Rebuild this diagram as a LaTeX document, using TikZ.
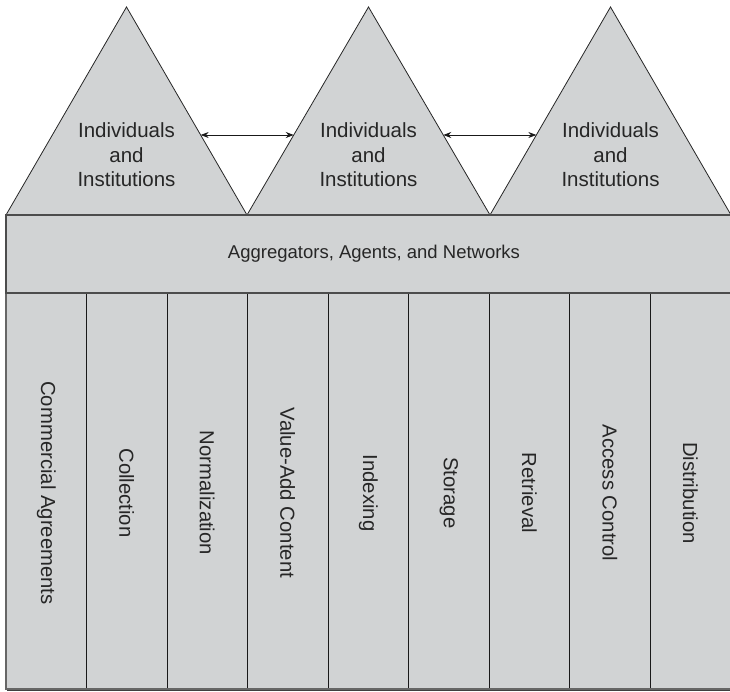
\documentclass[tikz,border=0pt]{standalone}
\usepackage{fontspec}
\setmainfont{Liberation Sans}
\usetikzlibrary{calc,arrows.meta}
\definecolor{panel}{HTML}{D1D3D4}
\begin{document}
\begin{tikzpicture}[x=1pt,y=-1pt,
  tri/.style={fill=panel,draw=black!85,line width=0.8pt,line join=miter},
  band/.style={fill=panel,draw=black!70,line width=1.6pt},
  divider/.style={draw=black!90,line width=1pt},
  lbl/.style={font=\fontsize{20.5}{24.5}\selectfont,align=center,text=black!85,inner sep=0pt},
  bandlbl/.style={font=\fontsize{18.5}{22}\selectfont,text=black!85,inner sep=0pt},
  col/.style={font=\fontsize{20.3}{24}\selectfont,rotate=-90,text=black!85,inner sep=0pt},
  link/.style={{Stealth[length=8pt,width=6pt]}-{Stealth[length=8pt,width=6pt]},line width=0.8pt,draw=black!90}]
\useasboundingbox (0,0) rectangle (730,692);
% triangle corners
\coordinate (b0) at (6,215);
\coordinate (b1) at (247,215);
\coordinate (b2) at (490,215);
\coordinate (b3) at (731,215);
\coordinate (p1) at (126.5,7);
\coordinate (p2) at (368.5,7);
\coordinate (p3) at (610.5,7);
\filldraw[tri] (b0) -- (p1) -- (b1) -- cycle;
\filldraw[tri] (b1) -- (p2) -- (b2) -- cycle;
\filldraw[tri] (b2) -- (p3) -- (b3) -- cycle;
% lower body
\fill[black!75] (7,295) rectangle (733,691);
\fill[panel] (6,293) rectangle (731,689);
\foreach \k in {1,...,8}{
  \draw[divider] ({6+80.5*\k},293) -- ({6+80.5*\k},689);
}
\draw[draw=black!60,line width=1.4pt] (6,293) -- (6,689) -- (731,689);
% band
\filldraw[band] (6,215) rectangle (732,293);
% labels
\node[lbl] (i1) at (126.5,155) {Individuals\\and\\Institutions};
\node[lbl] (i2) at (368.5,155) {Individuals\\and\\Institutions};
\node[lbl] (i3) at (610.5,155) {Individuals\\and\\Institutions};
\node[bandlbl] (agg) at (374,254) {Aggregators, Agents, and Networks};
\foreach \t [count=\i from 0] in {Commercial Agreements,Collection,Normalization,Value-Add Content,Indexing,Storage,Retrieval,Access Control,Distribution}{
  \node[col] (c\i) at ({46.25+80.5*\i},493) {\t};
}
% arrows between triangles
\coordinate (e1r) at ($(p1)!0.6154!(b1)$);
\coordinate (e2l) at ($(p2)!0.6154!(b1)$);
\coordinate (e2r) at ($(p2)!0.6154!(b2)$);
\coordinate (e3l) at ($(p3)!0.6154!(b2)$);
\draw[link] (e1r) -- (e2l);
\draw[link] (e2r) -- (e3l);
\end{tikzpicture}
\end{document}
